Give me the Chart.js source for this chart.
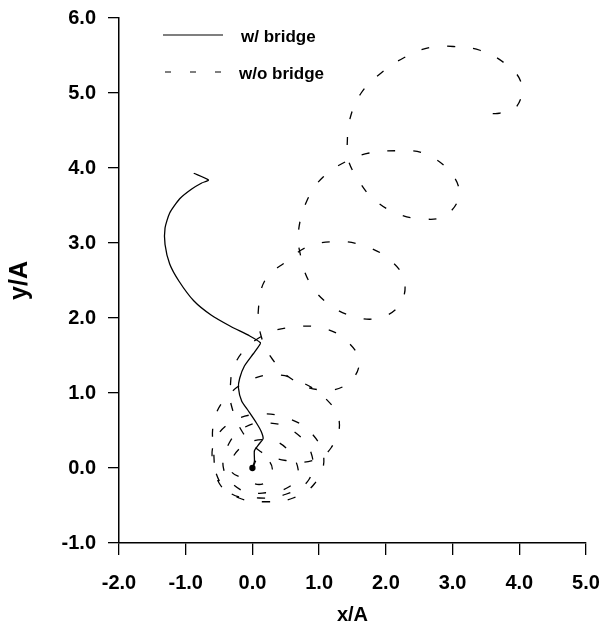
<!DOCTYPE html>
<html>
<head>
<meta charset="utf-8">
<script src="https://cdn.jsdelivr.net/npm/chart.js@4.4.0/dist/chart.umd.min.js"></script>
<style>
  html, body { margin: 0; padding: 0; background: #fff; }
  canvas { display: block; }
</style>
</head>
<body>
<canvas id="myChartPath" width="601" height="625"></canvas>
<script>
// x/A, y/A pairs
const withBridge = [
  [0, 0], [0.03, 0.09], [0.03, 0.23], [0.1, 0.32], [0.16, 0.39], [0.13, 0.49],
  [0.06, 0.6], [-0.06, 0.76], [-0.16, 0.89], [-0.21, 1.07], [-0.19, 1.2],
  [-0.12, 1.36], [0.01, 1.52], [0.1, 1.63], [0.12, 1.67], [-0.04, 1.76],
  [-0.33, 1.89], [-0.62, 2.04], [-0.88, 2.23], [-1.1, 2.49], [-1.24, 2.72],
  [-1.31, 2.98], [-1.31, 3.2], [-1.24, 3.4], [-1.09, 3.59], [-0.91, 3.72],
  [-0.76, 3.8], [-0.66, 3.84], [-0.88, 3.93]
];

const withoutBridge = [
  [0, 0], [0.1, 0.15], [0.24, 0.1], [0.3, -0.03], [0.24, -0.16], [0.1, -0.22], [-0.08, -0.16],
  [-0.33, -0.02], [-0.18, 0.27], [0.18, 0.38], [0.5, 0.27], [0.69, -0.05], [0.55, -0.25], [0.2, -0.33], [-0.16, -0.3],
  [-0.43, -0.02], [-0.35, 0.33], [-0.1, 0.55], [0.25, 0.6], [0.6, 0.5], [0.88, 0.2], [0.85, -0.15], [0.5, -0.35], [0.1, -0.4], [-0.34, -0.33],
  [-0.57, 0.0], [-0.57, 0.35], [-0.3, 0.62], [0.13, 0.72], [0.54, 0.66], [0.88, 0.47], [1.07, 0.13], [0.93, -0.21], [0.61, -0.4], [0.21, -0.45], [-0.2, -0.4], [-0.5, -0.2],
  [-0.58, 0.2], [-0.57, 0.65], [-0.35, 0.98], [0.01, 1.19], [0.39, 1.24], [0.72, 1.15], [1.07, 0.95], [1.3, 0.63], [1.18, 0.27], [0.9, 0.1], [0.5, 0.1], [0.12, 0.22], [-0.15, 0.48],
  [-0.32, 0.85], [-0.33, 1.1], [-0.28, 1.35], [-0.09, 1.6], [0.24, 1.8], [0.63, 1.88], [1.03, 1.87], [1.38, 1.72], [1.6, 1.42], [1.42, 1.12], [1.03, 1.04], [0.6, 1.18], [0.3, 1.45], [0.13, 1.76], [0.09, 2.12],
  [0.2, 2.52], [0.52, 2.76], [0.83, 2.95], [1.26, 3.02], [1.64, 2.97], [2.01, 2.81], [2.27, 2.52], [2.21, 2.18], [1.89, 2.0], [1.52, 2.02], [1.15, 2.18], [0.86, 2.47], [0.72, 2.84],
  [0.69, 3.16], [0.83, 3.59], [1.06, 3.88], [1.41, 4.09], [1.75, 4.2], [2.21, 4.23], [2.55, 4.2], [2.93, 3.98], [3.1, 3.66], [2.9, 3.37], [2.55, 3.32], [2.15, 3.4], [1.81, 3.59], [1.58, 3.85], [1.43, 4.12],
  [1.42, 4.3], [1.46, 4.65], [1.63, 5.0], [1.92, 5.26], [2.27, 5.47], [2.67, 5.61], [3.01, 5.62], [3.41, 5.57], [3.79, 5.39], [4.03, 5.13], [3.96, 4.82], [3.7, 4.73], [3.53, 4.73]
];

const seriesNames = ['w/ bridge', 'w/o bridge'];
const xRange = [-2, 5];
const yRange = [-1, 6];

const toPoints = arr => arr.map(p => ({ x: p[0], y: p[1] }));

// legend drawn inside the plot, top left
const innerLegend = {
  id: 'innerLegend',
  afterDraw(chart) {
    const c = chart.ctx;
    c.save();
    c.strokeStyle = '#000';
    c.lineWidth = 1.2;
    c.beginPath();
    c.moveTo(163, 35);
    c.lineTo(223, 35);
    c.stroke();
    c.setLineDash([6, 19]);
    c.beginPath();
    c.moveTo(165, 72);
    c.lineTo(223, 72);
    c.stroke();
    c.setLineDash([]);
    c.fillStyle = '#000';
    c.font = 'bold 17px "Liberation Sans", Arial, sans-serif';
    c.textBaseline = 'middle';
    c.fillText(seriesNames[0], 241, 37);
    c.fillText(seriesNames[1], 239, 74);
    c.restore();
  }
};

const ctx = document.getElementById('myChartPath');

new Chart(ctx, {
  type: 'scatter',
  data: {
    datasets: [
      {
        label: seriesNames[0],
        data: toPoints(withBridge),
        showLine: true,
        borderColor: '#000',
        backgroundColor: '#000',
        borderWidth: 1.3,
        tension: 0.2,
        pointRadius: withBridge.map((p, i) => i === 0 ? 2.5 : 0)
      },
      {
        label: seriesNames[1],
        data: toPoints(withoutBridge),
        showLine: true,
        borderColor: '#000',
        borderWidth: 1.3,
        borderDash: [8, 18],
        tension: 0.4,
        pointRadius: 0
      }
    ]
  },
  options: {
    responsive: false,
    animation: false,
    layout: { padding: { top: 18, right: 15, left: 0, bottom: 0 } },
    plugins: {
      legend: { display: false },
      tooltip: { enabled: false }
    },
    scales: {
      x: {
        type: 'linear',
        min: xRange[0],
        max: xRange[1],
        afterFit: s => { s.height = 82; s.paddingLeft = 0; s.paddingRight = 0; },
        border: { display: true, color: '#000', width: 1.5 },
        grid: { display: true, drawOnChartArea: false, drawTicks: true, tickLength: 12, color: '#000', lineWidth: 1.3 },
        ticks: {
          stepSize: 1,
          padding: 16,
          color: '#000',
          font: { family: '"Liberation Sans", Arial, sans-serif', size: 20, weight: 'bold' },
          callback: v => v.toFixed(1)
        },
        title: {
          display: true,
          text: 'x/A',
          color: '#000',
          font: { family: '"Liberation Sans", Arial, sans-serif', size: 20, weight: 'bold', lineHeight: 1 },
          padding: { top: 0, bottom: 0 }
        }
      },
      y: {
        type: 'linear',
        min: yRange[0],
        max: yRange[1],
        afterFit: s => { s.width = 119; s.paddingTop = 0; s.paddingBottom = 0; },
        border: { display: true, color: '#000', width: 1.5 },
        grid: { display: true, drawOnChartArea: false, drawTicks: true, tickLength: 11, color: '#000', lineWidth: 1.3 },
        ticks: {
          stepSize: 1,
          padding: 12,
          color: '#000',
          font: { family: '"Liberation Sans", Arial, sans-serif', size: 20, weight: 'bold' },
          callback: v => v.toFixed(1)
        },
        title: {
          display: true,
          text: 'y/A',
          color: '#000',
          font: { family: '"Liberation Sans", Arial, sans-serif', size: 25, weight: 'bold', lineHeight: 1 },
          padding: { top: 8, bottom: 8 }
        }
      }
    }
  },
  plugins: [innerLegend]
});
</script>
</body>
</html>
